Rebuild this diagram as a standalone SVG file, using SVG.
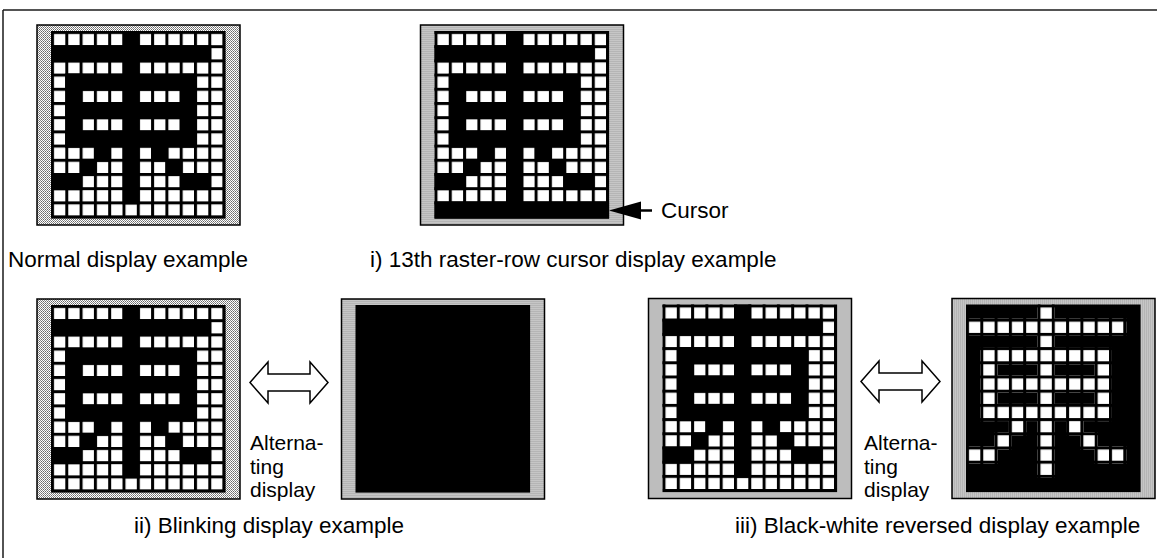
<svg xmlns="http://www.w3.org/2000/svg" xmlns:xlink="http://www.w3.org/1999/xlink" width="1157" height="558" viewBox="0 0 1157 558">
<style>
.lbl{font-family:"Liberation Sans",Arial,Helvetica,sans-serif;font-size:22.5px;fill:#000}
.alt{font-family:"Liberation Sans",Arial,Helvetica,sans-serif;font-size:21px;fill:#000}
.frame{fill:url(#dither);stroke:#000;stroke-width:1.5}
.arrow{fill:#fff;stroke:#000;stroke-width:1.5;stroke-linejoin:miter}
</style>
<defs>
<pattern id="dither" patternUnits="userSpaceOnUse" width="2" height="2">
<rect width="2" height="2" fill="#fff"/>
<rect x="0" y="0" width="1" height="1" fill="#6a6a6a"/>
<rect x="1" y="1" width="1" height="1" fill="#8c8c8c"/>
</pattern>
<pattern id="cells" patternUnits="userSpaceOnUse" x="14" y="6" width="14.3" height="14.2">
<rect width="14.3" height="14.2" fill="#000"/>
<rect x="3" y="3" width="11.3" height="11.2" fill="#fff"/>
</pattern>
<g id="kanji">
<rect x="85.5" y="6" width="17.3" height="173.4"/>
<rect x="14" y="20.2" width="160.3" height="17.2"/>
<rect x="28.3" y="48.6" width="131.7" height="17.2"/>
<rect x="28.3" y="77" width="131.7" height="17.2"/>
<rect x="28.3" y="105.4" width="131.7" height="17.2"/>
<rect x="28.3" y="48.6" width="17.3" height="74"/>
<rect x="142.7" y="48.6" width="17.3" height="74"/>
<rect x="56.9" y="119.6" width="17.3" height="17.2"/>
<rect x="114.1" y="119.6" width="17.3" height="17.2"/>
<rect x="42.6" y="133.8" width="17.3" height="17.2"/>
<rect x="128.4" y="133.8" width="17.3" height="17.2"/>
<rect x="14" y="148" width="31.6" height="17.2"/>
<rect x="142.7" y="148" width="31.6" height="17.2"/>
</g>
<g id="grid">
<rect class="frame" x="0" y="0" width="203" height="200"/>
<rect x="14" y="6" width="174.6" height="187.6" fill="#000"/>
<rect x="14" y="6" width="171.6" height="184.6" fill="url(#cells)"/>
</g>
<g id="normal">
<use xlink:href="#grid"/>
<use xlink:href="#kanji" fill="#000"/>
</g>
</defs>

<g id="border" fill="none" stroke="#1a1a1a" stroke-width="1.5">
<line x1="3" y1="10" x2="1157" y2="10"/>
<line x1="3" y1="10" x2="3" y2="558"/>
</g>

<g id="normal-display" transform="translate(37,25)">
<use xlink:href="#normal"/>
</g>

<g id="cursor-display" transform="translate(420.5,25)">
<use xlink:href="#normal"/>
<rect x="14" y="176.4" width="174.6" height="17.2" fill="#000"/>
</g>

<g id="blink-char" transform="translate(37,299)">
<use xlink:href="#normal"/>
</g>

<g id="blink-dark" transform="translate(341.5,299)">
<rect class="frame" x="0" y="0" width="203" height="200"/>
<rect x="14" y="6" width="174.6" height="187.6" fill="#000"/>
</g>

<g id="reverse-char" transform="translate(648.5,298.5)">
<use xlink:href="#normal"/>
</g>

<g id="reverse-inverted" transform="translate(952,298.5)">
<rect class="frame" x="0" y="0" width="203" height="200"/>
<rect x="14" y="6" width="174.6" height="187.6" fill="#000"/>
<use xlink:href="#kanji" fill="url(#cells)"/>
</g>

<g id="connectors">
<path class="arrow" d="M250,382.5 L268,362 L268,374 L310,374 L310,362 L328,382.5 L310,403 L310,391 L268,391 L268,403 Z"/>
<path class="arrow" d="M861,381.5 L879,361 L879,373 L922,373 L922,361 L940,381.5 L922,402 L922,390 L879,390 L879,402 Z"/>
<path d="M609,210.5 L641,201.5 L641,219.5 Z" fill="#000"/>
<line x1="640" y1="210.5" x2="652" y2="210.5" stroke="#000" stroke-width="2.5"/>
</g>

<g id="labels">
<text class="lbl" x="661" y="218">Cursor</text>
<text class="lbl" x="8" y="267">Normal display example</text>
<text class="lbl" x="370" y="267">i) 13th raster-row cursor display example</text>
<text class="alt"><tspan x="250" y="450">Alterna-</tspan><tspan x="250" y="473.5">ting</tspan><tspan x="250" y="497">display</tspan></text>
<text class="alt"><tspan x="864" y="450">Alterna-</tspan><tspan x="864" y="473.5">ting</tspan><tspan x="864" y="497">display</tspan></text>
<text class="lbl" x="134" y="533">ii) Blinking display example</text>
<text class="lbl" x="735" y="533">iii) Black-white reversed display example</text>
</g>
</svg>
